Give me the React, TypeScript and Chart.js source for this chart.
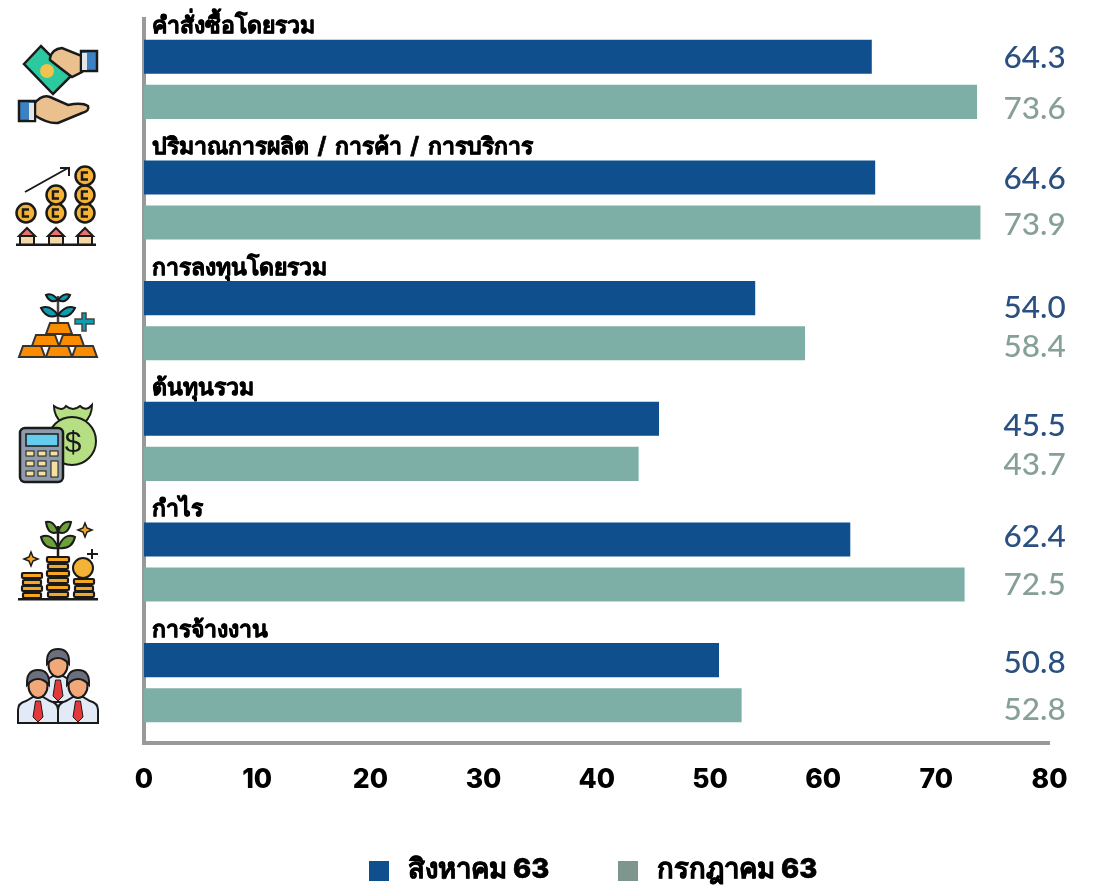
import React, { useEffect, useRef } from "react";
import { Chart, registerables } from "chart.js";

Chart.register(...registerables);

const categories = ["คำสั่งซื้อโดยรวม", "ปริมาณการผลิต / การค้า / การบริการ", "การลงทุนโดยรวม", "ต้นทุนรวม", "กำไร", "การจ้างงาน"];
const august = [64.3, 64.6, 54.0, 45.5, 62.4, 50.8];
const july = [73.6, 73.9, 58.4, 43.7, 72.5, 52.8];
const seriesNames = ["สิงหาคม 63", "กรกฎาคม 63"];
const xTicks = [0, 10, 20, 30, 40, 50, 60, 70, 80];

const BLUE = "#104F8E";
const TEAL = "#7DAFA6";
const FONT = 'Inter, "Noto Sans", "Liberation Sans", sans-serif';
const VALUE_FONT = 'Lato, sans-serif';
const augustNudge = [1, 1, 10, 7, -3, 3];
const julyNudge = [7, 2, 4, 1, 0, 5];

const overlay = {
  id: "overlay",
  beforeDatasetsDraw(chart: any) {
    const { ctx, scales } = chart;
    ctx.save();
    ctx.fillStyle = "#000";
    ctx.strokeStyle = "#000";
    ctx.lineWidth = 0.7;
    ctx.lineJoin = "round";
    ctx.font = `bold 23px ${FONT}`;
    ctx.wordSpacing = "3px";
    ctx.textBaseline = "middle";
    ctx.textAlign = "left";
    categories.forEach((c, i) => {
      const y = scales.y.getPixelForValue(i);
      ctx.fillText(c, 152, y - 53);
      ctx.strokeText(c, 152, y - 53);
    });
    ctx.restore();
  },
  afterDatasetsDraw(chart: any) {
    const { ctx } = chart;
    ctx.save();
    ctx.font = `500 31.5px ${VALUE_FONT}`;
    ctx.textAlign = "left";
    ctx.textBaseline = "middle";
    chart.data.datasets.forEach((ds: any, d: number) => {
      const meta = chart.getDatasetMeta(d);
      const nudge = d === 0 ? augustNudge : julyNudge;
      ctx.fillStyle = d === 0 ? "#2A5082" : "#86A098";
      ds.data.forEach((v: number, i: number) => {
        ctx.fillText(v.toFixed(1), 1003.5, meta.data[i].y + nudge[i]);
      });
    });
    ctx.restore();
  },
  afterDraw(chart: any) {
    const { ctx } = chart;
    ctx.save();
    ctx.font = `800 27.5px ${FONT}`;
    ctx.textBaseline = "middle";
    ctx.textAlign = "left";
    ctx.strokeStyle = "#000";
    ctx.lineWidth = 0.6;
    const swatches = [BLUE, "#7F968E"];
    const xs = [369, 618];
    seriesNames.forEach((n, i) => {
      ctx.fillStyle = swatches[i];
      ctx.fillRect(xs[i], 861, 20, 20);
      ctx.fillStyle = "#000";
      ctx.fillText(n, xs[i] + 39, 870);
      ctx.strokeText(n, xs[i] + 39, 870);
    });
    ctx.restore();
  },
};

const K = "#1a1a1a";

function Coin({ x, y, r = 9.5 }: { x: number; y: number; r?: number }) {
  return (
    <g>
      <circle cx={x} cy={y} r={r} fill="#F5B335" stroke={K} strokeWidth={2.5} />
      <path d={`M${x + 3} ${y - 3.5}H${x - 3}V${y + 3.5}H${x + 3}`} fill="none" stroke={K} strokeWidth={2.5} />
    </g>
  );
}

function House({ x }: { x: number }) {
  return (
    <g stroke={K} strokeWidth={2}>
      <rect x={x - 7} y={236} width={14} height={9} fill="#F3D9A8" />
      <path d={`M${x - 8} ${236}L${x} ${228}L${x + 8} ${236}Z`} fill="#EC6F6F" />
    </g>
  );
}

function Bar3({ x, y, w }: { x: number; y: number; w: number }) {
  return <path d={`M${x + 4} ${y}H${x + w - 4}L${x + w} ${y + 11}H${x}Z`} fill="#FB8C00" stroke="#333" strokeWidth={2} />;
}

function Stack({ x, w, ys }: { x: number; w: number; ys: number[] }) {
  return (
    <g>
      {ys.map((y, i) => (
        <rect key={i} x={x + (i % 2 ? 1 : 0)} y={y} width={w - (i % 2 ? 2 : 0)} height={5} rx={1} fill="#F5A623" stroke={K} strokeWidth={2.2} />
      ))}
    </g>
  );
}

function Leaf({ d, fill }: { d: string; fill: string }) {
  return <path d={d} fill={fill} stroke={K} strokeWidth={2} />;
}

function Person({ x, y }: { x: number; y: number }) {
  return (
    <g stroke={K} strokeWidth={2}>
      <path d={`M${x - 20} ${y + 44}V${y + 31}Q${x - 20} ${y + 24} ${x - 12} ${y + 22}L${x - 5} ${y + 18}H${x + 5}L${x + 12} ${y + 22}Q${x + 20} ${y + 24} ${x + 20} ${y + 31}V${y + 44}Z`} fill="#E3EAF7" />
      <path d={`M${x - 2.5} ${y + 22}H${x + 2.5}L${x + 5} ${y + 38}L${x} ${y + 43}L${x - 5} ${y + 38}Z`} fill="#E5383B" strokeWidth={1} />
      <ellipse cx={x} cy={y + 7} rx={9.5} ry={12} fill="#F2A878" />
      <path d={`M${x - 11} ${y + 6}Q${x - 12} ${y - 9} ${x} ${y - 9}Q${x + 12} ${y - 9} ${x + 11} ${y + 6}Q${x + 6} ${y} ${x} ${y}Q${x - 6} ${y} ${x - 11} ${y + 6}Z`} fill="#6B6F7E" />
    </g>
  );
}

function Icons() {
  return (
    <svg width={1093} height={885} viewBox="0 0 1093 885" style={{ position: "absolute", left: 0, top: 0, pointerEvents: "none" }}>
      {/* hands and banknote */}
      <path d="M24 64L41 46L71 76L53 94Z" fill="#2CC9A0" stroke={K} strokeWidth={2.5} />
      <circle cx={47} cy={71} r={7} fill="#F2C14E" />
      <path d="M50 58Q52 49 62 48L82 56V72L72 77Q60 68 50 60Z" fill="#EBC08F" stroke={K} strokeWidth={2.5} />
      <rect x={81} y={51} width={16} height={20} fill="#3B82C4" stroke={K} strokeWidth={2.5} />
      <rect x={82} y={53} width={5} height={17} fill="#E6E6E6" />
      <path d="M34 104Q42 94 50 97L68 105Q82 102 88 106Q90 111 82 113L58 123Q48 124 34 115Z" fill="#EBC08F" stroke={K} strokeWidth={2.5} />
      <rect x={19} y={101} width={16} height={20} fill="#3B82C4" stroke={K} strokeWidth={2.5} />
      <rect x={29} y={103} width={5} height={17} fill="#E6E6E6" />

      {/* coins and arrow */}
      <path d="M25 192L68 168M60 168H69V176" fill="none" stroke={K} strokeWidth={2} />
      <Coin x={26} y={213} />
      <Coin x={56} y={213} />
      <Coin x={56} y={195} />
      <Coin x={85} y={213} />
      <Coin x={85} y={195} />
      <Coin x={85} y={176} />
      <House x={27} />
      <House x={56} />
      <House x={85} />
      <rect x={16} y={243.5} width={80} height={2.5} fill={K} />

      {/* gold bars */}
      <path d="M58 296V324" stroke="#444" strokeWidth={2.5} />
      <Leaf d="M46 295Q52 292 58 300Q50 304 46 295Z" fill="#0E9CB0" />
      <Leaf d="M70 295Q64 292 58 300Q66 304 70 295Z" fill="#0E9CB0" />
      <Leaf d="M41 308Q50 304 58 315Q47 320 41 308Z" fill="#0E9CB0" />
      <Leaf d="M75 308Q66 304 58 315Q69 320 75 308Z" fill="#0E9CB0" />
      <path d="M82 313H86V319H94V324H86V331H82V324H75V319H82Z" fill="#0E9CB0" stroke="#444" strokeWidth={1.5} />
      <Bar3 x={46} y={323} w={26} />
      <Bar3 x={32} y={335} w={27} />
      <Bar3 x={59} y={335} w={25} />
      <Bar3 x={19} y={346} w={26} />
      <Bar3 x={46} y={346} w={26} />
      <Bar3 x={72} y={346} w={25} />

      {/* calculator and money bag */}
      <path d="M54 406Q62 412 66 406Q73 412 80 406Q86 412 92 405Q92 416 84 423H62Q54 416 54 406Z" fill="#B5DF82" stroke={K} strokeWidth={2} />
      <circle cx={72} cy={441} r={24} fill="#B5DF82" stroke={K} strokeWidth={2} />
      <text x={73} y={452} textAnchor="middle" fontFamily="Liberation Sans" fontSize={30} fill={K}>$</text>
      <rect x={20} y={428} width={43} height={54} rx={5} fill="#8F9BAA" stroke={K} strokeWidth={2.5} />
      <rect x={26} y={434} width={32} height={12} fill="#66CCEE" stroke={K} strokeWidth={1.5} />
      {[26, 38, 50].map((x) => (
        <rect key={x} x={x} y={451} width={8} height={5} fill="#F7DF9C" stroke={K} strokeWidth={1} />
      ))}
      {[26, 38].map((x) => (
        <rect key={x} x={x} y={461} width={8} height={5} fill="#F7DF9C" stroke={K} strokeWidth={1} />
      ))}
      {[26, 38].map((x) => (
        <rect key={x} x={x} y={471} width={8} height={5} fill="#F7DF9C" stroke={K} strokeWidth={1} />
      ))}
      <rect x={51} y={461} width={7} height={16} fill="#F7DF9C" stroke={K} strokeWidth={1} />

      {/* plant and coin stacks */}
      <path d="M58 526V557" stroke={K} strokeWidth={2.5} />
      <Leaf d="M46 522Q54 520 58 532Q48 536 46 522Z" fill="#6DA03A" />
      <Leaf d="M71 522Q62 520 58 532Q68 536 71 522Z" fill="#6DA03A" />
      <Leaf d="M41 537Q52 532 58 548Q44 550 41 537Z" fill="#6DA03A" />
      <Leaf d="M75 537Q64 532 58 548Q72 550 75 537Z" fill="#6DA03A" />
      <path d="M85 523L87 528L92 530L87 532L85 537L83 532L78 530L83 528Z" fill="#F5A623" stroke={K} strokeWidth={1.5} />
      <path d="M31 552L33 557L38 559L33 561L31 566L29 561L24 559L29 557Z" fill="#F5A623" stroke={K} strokeWidth={1.5} />
      <path d="M92 549V559M87 554H98" stroke={K} strokeWidth={2} />
      <Stack x={22} w={20} ys={[573, 580, 586, 593]} />
      <Stack x={47} w={22} ys={[557, 564, 571, 578, 585, 592]} />
      <Stack x={74} w={20} ys={[579, 586, 592]} />
      <circle cx={83} cy={568} r={10} fill="#F5B335" stroke={K} strokeWidth={2} />
      <rect x={18} y={598} width={80} height={2.5} fill={K} />

      {/* people */}
      <Person x={58} y={658} />
      <Person x={38} y={679} />
      <Person x={78} y={679} />
    </svg>
  );
}

export default function App() {
  const ref = useRef<HTMLCanvasElement>(null);
  useEffect(() => {
    if (!ref.current) return;
    const chart = new Chart(ref.current, {
      type: "bar",
      data: {
        labels: categories,
        datasets: [
          { label: seriesNames[0], data: august, backgroundColor: BLUE, categoryPercentage: 0.747, barPercentage: 0.756 },
          { label: seriesNames[1], data: july, backgroundColor: TEAL, categoryPercentage: 0.747, barPercentage: 0.756 },
        ],
      },
      options: {
        indexAxis: "y",
        animation: false,
        responsive: false,
        layout: { padding: { left: 144, right: 43.5, top: 19, bottom: 0 } },
        plugins: { legend: { display: false }, tooltip: { enabled: false } },
        scales: {
          x: {
            min: 0,
            max: 80,
            afterBuildTicks(scale: any) {
              scale.ticks = xTicks.map((value) => ({ value }));
            },
            afterFit(scale: any) {
              scale.height = 142;
            },
            grid: { display: false, drawTicks: false },
            border: { display: true, color: "#999999", width: 4 },
            ticks: { color: "#000", padding: 21, maxRotation: 0, autoSkip: false, font: { family: "Inter", size: 26.5, weight: "800" } },
          },
          y: {
            afterFit(scale: any) {
              scale.width = 0;
            },
            grid: { display: false, drawTicks: false },
            border: { display: true, color: "#999999", width: 4 },
            ticks: { display: false },
          },
        },
      },
      plugins: [overlay],
    } as any);
    return () => chart.destroy();
  }, []);
  return (
    <div style={{ position: "absolute", left: 0, top: 0, width: 1093, height: 885, background: "#fff" }}>
      <canvas ref={ref} width={1093} height={885} style={{ display: "block" }} />
      <Icons />
    </div>
  );
}
